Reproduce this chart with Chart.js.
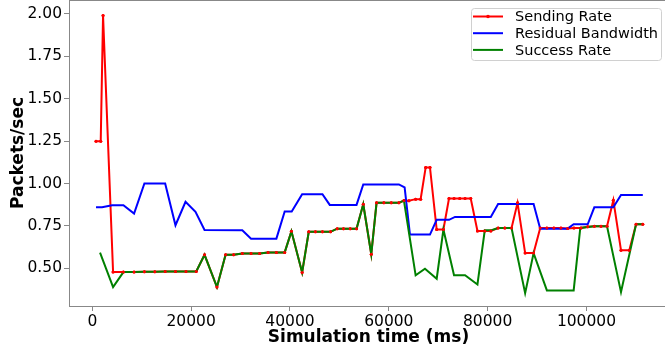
<!DOCTYPE html>
<html>
<head>
<meta charset="utf-8">
<script src="https://cdn.jsdelivr.net/npm/chart.js@4.4.1/dist/chart.umd.min.js"></script>
<style>
  html, body { margin: 0; padding: 0; background: #fff; overflow: hidden; }
  /* Chart.js keeps ~4px extra above and right of the plot; shift the canvas to hide it */
  #wrap { width: 672px; height: 355px; margin-top: -4px; }
</style>
</head>
<body>
<div id="wrap"><canvas id="chart"></canvas></div>
<script>
// Data (time in ms, rate in packets/sec)
const sendTimes = [750, 1700, 2170, 4200, 6290, 8450, 10540, 12650, 14740, 16830, 18940, 21030,
  22710, 25220, 26970, 28590, 30350, 32120, 33860, 35560, 37250, 38930,
  40290, 42460, 43800, 45150, 46570, 48200, 49550, 50830, 52190, 53470,
  54830, 56450, 57520, 59000, 60500, 62040, 63060, 64070, 65430, 66440, 67460, 68330,
  69690, 71050, 72180, 73200, 74350, 75430, 76580, 77940, 79420, 80640,
  82120, 83480, 84840, 86050, 87590, 89300, 90640, 91990, 93410, 94830, 96190, 97470, 98890,
  100250, 101590, 102940, 104160, 105440, 106990, 108670, 110040, 111400];
const sendRate = [1.25, 1.25, 1.99, 0.478, 0.478, 0.478, 0.48, 0.48, 0.482, 0.482, 0.482, 0.482,
  0.58, 0.39, 0.58, 0.58, 0.588, 0.588, 0.588, 0.594, 0.594, 0.594,
  0.718, 0.476, 0.715, 0.715, 0.715, 0.715, 0.734, 0.734, 0.734, 0.734,
  0.878, 0.583, 0.886, 0.886, 0.886, 0.886, 0.9, 0.898, 0.908, 0.908, 1.095, 1.095,
  0.729, 0.729, 0.912, 0.912, 0.912, 0.912, 0.912, 0.72, 0.72, 0.72,
  0.738, 0.738, 0.738, 0.886, 0.59, 0.59, 0.738, 0.738, 0.738, 0.738, 0.735, 0.738, 0.738,
  0.745, 0.748, 0.748, 0.748, 0.902, 0.606, 0.606, 0.76, 0.76];

const bandwidthTimes = [750, 1970, 4000, 6290, 8450, 10540, 14740, 16830, 18860, 20880,
  22710, 30350, 32120, 37250, 38930, 40350, 42460, 46570, 48050, 53470,
  54830, 62040, 63200, 64280, 68330, 69690, 72180, 73400, 80640, 82120,
  89300, 90640, 96190, 97410, 100250, 101590, 105440, 106990, 111400];
const bandwidth = [0.86, 0.86, 0.872, 0.872, 0.823, 1.0, 1.0, 0.754, 0.892, 0.833,
  0.726, 0.724, 0.675, 0.675, 0.835, 0.835, 0.937, 0.937, 0.874, 0.874,
  0.995, 0.995, 0.977, 0.699, 0.699, 0.786, 0.786, 0.803, 0.803, 0.88,
  0.88, 0.734, 0.734, 0.76, 0.76, 0.86, 0.86, 0.933, 0.933];

const successTimes = [1560, 4200, 6290, 8450, 10540, 12650, 14740, 16830, 18940, 21030,
  22710, 25220, 26970, 28590, 30350, 33860, 35560, 38930, 40290, 42460,
  43800, 48200, 49550, 53470, 54830, 56450, 57520, 62040, 63060, 65430,
  67320, 69690, 71050, 73200, 75430, 77940, 79420, 80640, 82120, 84840,
  87590, 89300, 91990, 97410, 98750, 101590, 104160, 106990, 110040, 111400];
const successRate = [0.593, 0.39, 0.478, 0.478, 0.48, 0.48, 0.482, 0.482, 0.482, 0.482,
  0.58, 0.39, 0.58, 0.58, 0.588, 0.588, 0.594, 0.594, 0.718, 0.476,
  0.715, 0.715, 0.734, 0.734, 0.878, 0.583, 0.886, 0.886, 0.9, 0.459,
  0.498, 0.439, 0.729, 0.459, 0.459, 0.405, 0.724, 0.724, 0.738, 0.738,
  0.354, 0.59, 0.37, 0.37, 0.738, 0.748, 0.748, 0.36, 0.76, 0.76];

const xTicks = [0, 20000, 40000, 60000, 80000, 100000];
const yTicks = [0.5, 0.75, 1.0, 1.25, 1.5, 1.75, 2.0];

const FONT = "'DejaVu Sans', sans-serif";

function toPoints(xs, ys) {
  return xs.map((x, i) => ({ x: x, y: ys[i] }));
}

// frame around the plot, like matplotlib spines
const framePlugin = {
  id: 'frame',
  afterDatasetsDraw(chart) {
    const { ctx, chartArea } = chart;
    // red markers sit on top of the green line
    chart.getDatasetMeta(0).data.forEach(p => p.draw(ctx, chartArea));
    ctx.save();
    ctx.strokeStyle = '#888';
    ctx.lineWidth = 1;
    ctx.strokeRect(chartArea.left + 0.5, chartArea.top + 0.5,
      chartArea.right - chartArea.left, chartArea.bottom - chartArea.top);
    ctx.restore();
  }
};

// legend box in the top right corner of the plot
const legendPlugin = {
  id: 'boxLegend',
  afterDraw(chart) {
    const ctx = chart.ctx;
    const top = chart.chartArea.top;
    const x = 471, y = top + 8, w = 190, h = 52;
    ctx.save();
    ctx.fillStyle = 'rgba(255,255,255,0.8)';
    ctx.strokeStyle = '#d0d0d0';
    ctx.lineWidth = 1;
    ctx.beginPath();
    ctx.roundRect(x + 0.5, y + 0.5, w, h, 3);
    ctx.fill();
    ctx.stroke();
    ctx.font = '14.5px ' + FONT;
    ctx.textBaseline = 'middle';
    chart.data.datasets.forEach((ds, i) => {
      const ly = y + 8.5 + i * 16.7;
      ctx.strokeStyle = ds.borderColor;
      ctx.lineWidth = 2;
      ctx.beginPath();
      ctx.moveTo(473, ly);
      ctx.lineTo(503, ly);
      ctx.stroke();
      if (ds.pointRadius > 0) {
        ctx.fillStyle = ds.borderColor;
        ctx.beginPath();
        ctx.arc(488, ly, 1.8, 0, Math.PI * 2);
        ctx.fill();
      }
      ctx.fillStyle = '#000';
      ctx.fillText(ds.label, 515, ly + 1);
    });
    ctx.restore();
  }
};

const chart = new Chart(document.getElementById('chart'), {
  type: 'line',
  data: {
    datasets: [
      {
        label: 'Sending Rate',
        data: toPoints(sendTimes, sendRate),
        borderColor: '#ff0000',
        backgroundColor: '#ff0000',
        borderWidth: 2,
        pointRadius: 1.5,
        pointBorderWidth: 0,
        order: 3
      },
      {
        label: 'Residual Bandwidth',
        data: toPoints(bandwidthTimes, bandwidth),
        borderColor: '#0000ff',
        borderWidth: 2,
        pointRadius: 0,
        order: 2
      },
      {
        label: 'Success Rate',
        data: toPoints(successTimes, successRate),
        borderColor: '#008000',
        borderWidth: 2,
        pointRadius: 0,
        order: 1
      }
    ]
  },
  options: {
    responsive: true,
    maintainAspectRatio: false,
    animation: false,
    layout: { padding: { left: 0, top: 1, right: 1, bottom: 0 } },
    elements: { line: { tension: 0 } },
    plugins: {
      legend: { display: false },
      tooltip: { enabled: false }
    },
    scales: {
      x: {
        type: 'linear',
        min: -4720,
        max: 116500,
        afterBuildTicks: s => { s.ticks = xTicks.map(v => ({ value: v })); },
        afterFit: s => { s.height = 45; s.paddingLeft = 0; s.paddingRight = 0; },
        grid: { drawOnChartArea: false, color: '#888', tickLength: 5 },
        border: { color: '#888' },
        ticks: {
          color: '#000',
          padding: 2,
          maxRotation: 0,
          font: { family: FONT, size: 15.5 },
          callback: v => String(v)
        },
        title: {
          display: true,
          text: 'Simulation time (ms)',
          color: '#000',
          padding: { top: 0, bottom: 3 },
          font: { family: FONT, size: 17, weight: 'bold' }
        }
      },
      y: {
        min: 0.278,
        max: 2.082,
        afterBuildTicks: s => { s.ticks = yTicks.map(v => ({ value: v })); },
        afterFit: s => { s.width = 69; s.paddingTop = 0; s.paddingBottom = 0; },
        grid: { drawOnChartArea: false, color: '#888', tickLength: 5 },
        border: { color: '#888' },
        ticks: {
          color: '#000',
          padding: 2,
          font: { family: FONT, size: 15.5 },
          callback: v => v.toFixed(2)
        },
        title: {
          display: true,
          text: 'Packets/sec',
          color: '#000',
          padding: { top: 8, bottom: 0 },
          font: { family: FONT, size: 17, weight: 'bold' }
        }
      }
    }
  },
  plugins: [framePlugin, legendPlugin]
});
</script>
</body>
</html>
